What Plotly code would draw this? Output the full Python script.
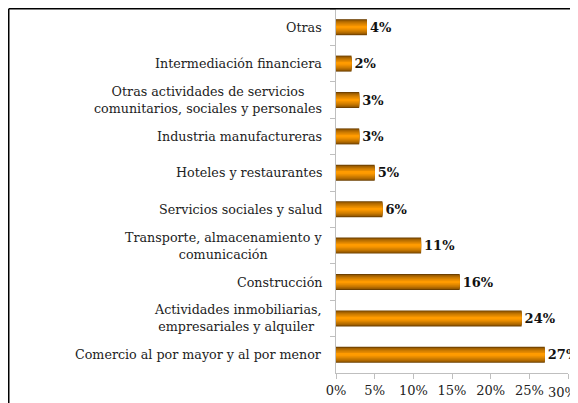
import plotly.graph_objects as go

categories = [
    "Otras",
    "Intermediación financiera",
    "Otras actividades de servicios<br>comunitarios, sociales y personales",
    "Industria manufactureras",
    "Hoteles y restaurantes",
    "Servicios sociales y salud",
    "Transporte, almacenamiento y<br>comunicación",
    "Construcción",
    "Actividades inmobiliarias,<br>empresariales y alquiler ",
    "Comercio al por mayor y al por menor",
]
values = [4, 2, 3, 3, 5, 6, 11, 16, 24, 27]
x_ticks = [0, 5, 10, 15, 20, 25, 30]

FONT = "DejaVu Serif"
W, H = 570, 395
L, R, T, B = 328, 10, 1, 30
PW, PH = W - L - R, H - T - B

fig = go.Figure()

# simulate cylindrical gradient with layered bars
N = 9
full_w = 0.44
dark = (110, 64, 0)
bright = (255, 155, 0)
for i in range(N):
    t = i / (N - 1)
    t = t ** 0.6
    c = tuple(int(dark[k] + (bright[k] - dark[k]) * t) for k in range(3))
    w = full_w * (1 - i / N)
    kw = {}
    if i == 0:
        kw = dict(
            text=[f"{v}%" for v in values],
            textposition="outside",
            textfont=dict(family=FONT, size=13, color="#111"),
            texttemplate="<b>%{text}</b>",
            constraintext="none",
            cliponaxis=False,
        )
    fig.add_trace(go.Bar(
        x=values, y=categories, orientation="h",
        width=w,
        marker=dict(color=f"rgb{c}", line=dict(width=0)),
        hoverinfo="skip", showlegend=False,
        **kw,
    ))

for cat in categories:
    fig.add_annotation(
        x=0, xref="x", y=cat, yref="y", text=cat, showarrow=False,
        xanchor="right", xshift=-12, align="center",
        font=dict(family=FONT, size=12.7, color="#222"),
    )

# last x tick label would overflow the page: place it flush with the right edge
tick_text = [f"{v}%" for v in x_ticks]
fig.add_annotation(
    x=(W - L) / PW, xref="paper", y=0, yref="paper", text=tick_text[-1], showarrow=False,
    xanchor="right", yanchor="top", yshift=-11, borderpad=0,
    font=dict(family=FONT, size=13, color="#222"),
)

# outer frame (cropped)
fx = (0.75 - L) / PW
fy = 1 + (T - 0.75) / PH
fig.add_shape(type="line", xref="paper", yref="paper", x0=fx, x1=(W - L) / PW, y0=fy, y1=fy,
              line=dict(color="black", width=1.5))
fig.add_shape(type="line", xref="paper", yref="paper", x0=fx, x1=fx, y0=fy, y1=-B / PH,
              line=dict(color="black", width=1.5))

fig.update_layout(
    width=W, height=H,
    margin=dict(l=L, r=R, t=T, b=B),
    barmode="overlay",
    plot_bgcolor="white", paper_bgcolor="white",
    font=dict(family=FONT, size=12, color="#222"),
    xaxis=dict(
        range=[0, 30], tickvals=x_ticks, ticktext=tick_text[:-1] + [""],
        showgrid=False, zeroline=False, showline=True, linecolor="#bfbfbf", linewidth=1,
        ticks="outside", ticklen=5, tickcolor="#bfbfbf",
        tickfont=dict(family=FONT, size=13, color="#222"),
    ),
    yaxis=dict(
        autorange="reversed", showticklabels=False, tickson="boundaries",
        showgrid=False, zeroline=False, showline=True, linecolor="#bfbfbf", linewidth=1,
        ticks="outside", ticklen=5, tickcolor="#bfbfbf",
    ),
)

fig.write_html("out.html")
